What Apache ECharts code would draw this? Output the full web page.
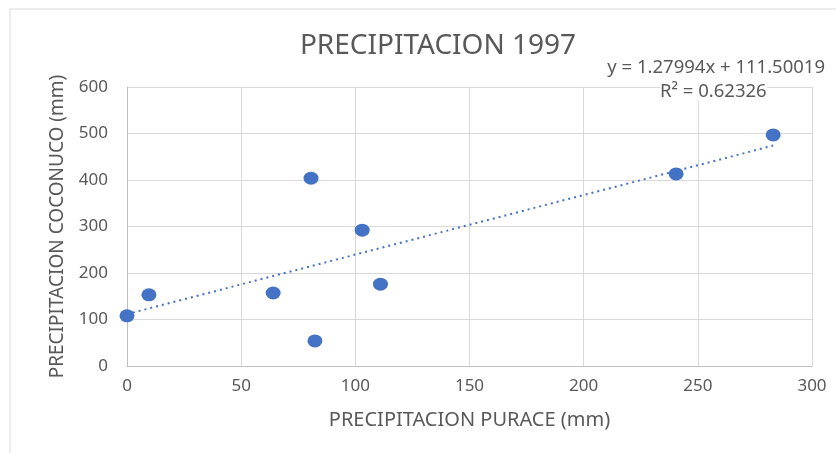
<!DOCTYPE html>
<html>
<head>
<meta charset="utf-8">
<script src="https://cdn.jsdelivr.net/npm/echarts@6/dist/echarts.min.js"></script>
<style>
  html,body{margin:0;padding:0;background:#fff}
  #chart{width:836px;height:453px}
</style>
</head>
<body>
<div id="chart"></div>
<script>
  // datos
  var puracePts = [0, 9.6, 64, 80.6, 82.3, 103, 111, 240.5, 283];
  var coconucoPts = [108, 153, 157, 404, 54, 292, 176, 413, 497];
  // linea de tendencia (extremos)
  var trendX = [0, 283];
  var trendY = [111.5, 474];
  var eqText = 'y = 1.27994x + 111.50019';
  var r2Text = 'R² = 0.62326';

  var chart = echarts.init(document.getElementById('chart'));
  var font = 'Noto Sans';
  var gris = '#595959';

  var option = {
    animation: false,
    title: {
      text: 'PRECIPITACION 1997',
      left: 433, top: 27, textAlign: 'center',
      textStyle: {fontFamily: font, fontSize: 28, fontWeight: 'normal', color: gris}
    },
    graphic: [
      {type: 'rect', shape: {x: 10, y: 9, width: 840, height: 460}, style: {fill: 'none', stroke: '#d9d9d9', lineWidth: 1}, z: -1},
      {type: 'text', right: 11, top: 58, z: 10, style: {text: eqText, fontFamily: font, fontSize: 18.5, fill: gris}},
      {type: 'text', left: 660, top: 82, z: 10, style: {text: r2Text, fontFamily: font, fontSize: 18.5, fill: gris, backgroundColor: '#fff'}}
    ],
    grid: {left: 127, right: 24, top: 87, bottom: 87},
    xAxis: {
      type: 'value', min: 0, max: 300, interval: 50,
      name: 'PRECIPITACION PURACE (mm)', nameLocation: 'middle', nameGap: 44,
      nameTextStyle: {fontFamily: font, fontSize: 20, color: gris},
      axisLine: {show: true, lineStyle: {color: '#bfbfbf'}},
      axisTick: {show: false},
      axisLabel: {fontFamily: font, fontSize: 17, color: gris, margin: 12},
      splitLine: {lineStyle: {color: '#d9d9d9', width: 1}}
    },
    yAxis: {
      type: 'value', min: 0, max: 600, interval: 100,
      name: 'PRECIPITACION COCONUCO (mm)', nameLocation: 'middle', nameGap: 60,
      nameTextStyle: {fontFamily: font, fontSize: 19, color: gris},
      axisLine: {show: true, lineStyle: {color: '#bfbfbf'}},
      axisTick: {show: false},
      axisLabel: {fontFamily: font, fontSize: 17, color: gris, margin: 19},
      splitLine: {lineStyle: {color: '#d9d9d9', width: 1}}
    },
    series: [
      {
        type: 'line',
        data: trendX.map(function (x, i) { return [x, trendY[i]]; }),
        showSymbol: false,
        lineStyle: {color: '#4472C4', width: 2, type: [2, 4]},
        z: 1
      },
      {
        type: 'scatter',
        data: puracePts.map(function (x, i) { return [x, coconucoPts[i]]; }),
        symbol: 'circle',
        symbolSize: [15, 13],
        itemStyle: {color: '#4472C4', opacity: 1},
        z: 2
      }
    ]
  };
  chart.setOption(option);
</script>
</body>
</html>
